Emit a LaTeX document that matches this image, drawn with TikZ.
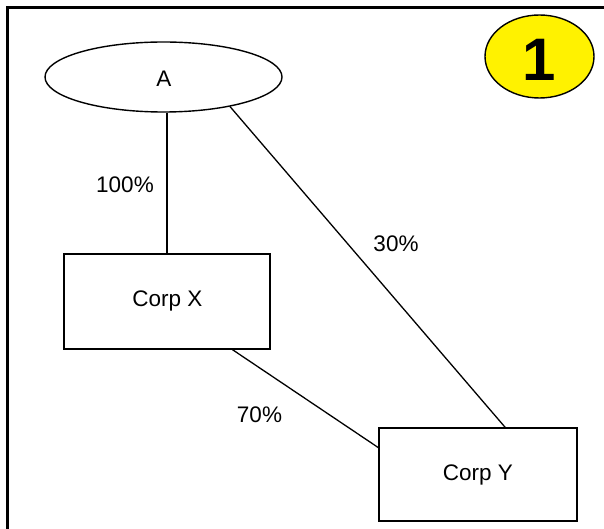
\documentclass[tikz,border=0pt]{standalone}
\usepackage{fontspec}
\setmainfont{Liberation Sans}
\usetikzlibrary{shapes.geometric,calc}
\tikzset{
  lbl/.style={font=\fontsize{22.5}{27}\selectfont, inner sep=0pt},
  corp/.style={draw, line width=1.4pt, rectangle, inner sep=0pt, font=\fontsize{22.5}{27}\selectfont},
  owner/.style={draw, line width=1.4pt, ellipse, inner sep=0pt, font=\fontsize{22.5}{27}\selectfont},
  badge/.style={draw, line width=1.4pt, ellipse, fill=yellow, inner sep=0pt, font=\bfseries\fontsize{60}{60}\selectfont},
  link/.style={line width=1.3pt}
}
\begin{document}
\begin{tikzpicture}[x=1pt, y=-1pt]
\useasboundingbox (0,0) rectangle (604,529);
% open frame: left and top edges
\draw[line width=3pt] (7.5,529) -- (7.5,7.5) -- (604,7.5);

% nodes
\node[owner, minimum width=237pt, minimum height=70pt] (A) at (163.5,77) {};
\node[lbl] (Atext) at (163.8,79) {A};
\node[corp, minimum width=206pt, minimum height=95pt] (X) at (167,301.5) {};
\node[lbl] (Xtext) at (167.5,301) {Corp X};
\node[corp, minimum width=198pt, minimum height=93pt] (Y) at (478,474.5) {};
\node[lbl] (Ytext) at (478,475) {Corp Y};
\node[badge, minimum width=109pt, minimum height=83pt] (B) at (539.5,56.5) {};
\node[font=\bfseries\fontsize{60}{60}\selectfont, inner sep=0pt] (Btext) at (539.5,60) {1};

% ownership links
\draw[link] (X.north) -- (X.north |- A.south);
\draw[link] (A.-24.5) -- ($(Y.north west)!0.636!(Y.north east)$);
\draw[link] ($(X.south west)!0.816!(X.south east)$) -- ($(Y.north west)!0.215!(Y.south west)$);

% percentages
\node[lbl] (p100) at (125,185) {100\%};
\node[lbl] (p30) at (396,244) {30\%};
\node[lbl] (p70) at (259.5,415) {70\%};
\end{tikzpicture}
\end{document}
